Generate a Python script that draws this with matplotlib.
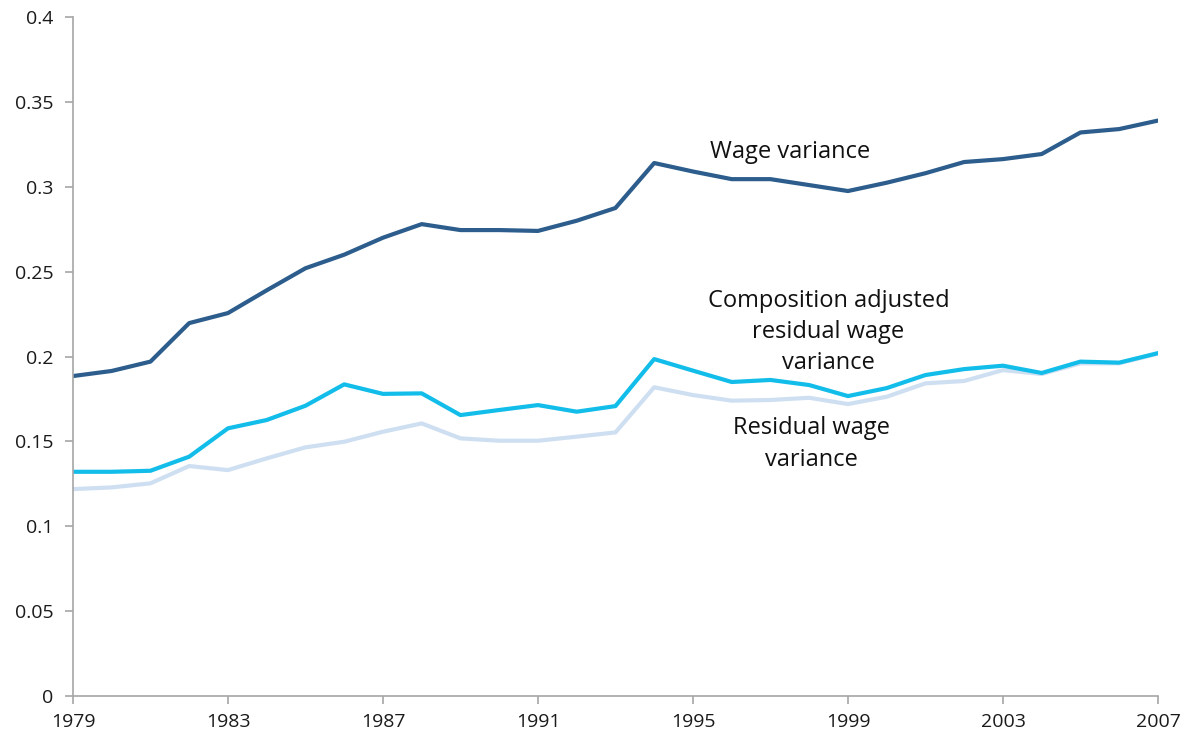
import matplotlib
matplotlib.use('Agg')
import matplotlib.pyplot as plt

plt.rcParams['font.family'] = ['Open Sans', 'DejaVu Sans']

# data
years = list(range(1979, 2008))
wage_var = [0.1885, 0.1915, 0.197, 0.2197, 0.2256, 0.239, 0.252, 0.260, 0.270, 0.278,
            0.2745, 0.2745, 0.274, 0.280, 0.2875, 0.314, 0.309, 0.3045, 0.3045, 0.301,
            0.2975, 0.3024, 0.308, 0.3146, 0.3163, 0.3193, 0.332, 0.334, 0.339]
comp_adj_var = [0.1321, 0.1321, 0.1327, 0.141, 0.1577, 0.1626, 0.171, 0.1836, 0.178, 0.1783,
                0.1655, 0.1685, 0.1714, 0.1675, 0.1708, 0.1985, 0.1917, 0.185, 0.1862, 0.1832,
                0.1767, 0.1814, 0.1891, 0.1926, 0.1946, 0.1903, 0.197, 0.1964, 0.202]
resid_var = [0.1219, 0.1229, 0.1253, 0.1355, 0.1331, 0.140, 0.1465, 0.1498, 0.1557, 0.1606,
             0.1518, 0.1504, 0.1504, 0.1528, 0.1553, 0.1819, 0.1773, 0.174, 0.1744, 0.1757,
             0.172, 0.1763, 0.1842, 0.1856, 0.192, 0.1897, 0.196, 0.196, 0.2017]
xticks = [1979, 1983, 1987, 1991, 1995, 1999, 2003, 2007]
yticks = [0, 0.05, 0.1, 0.15, 0.2, 0.25, 0.3, 0.35, 0.4]
ytick_labels = ['0', '0.05', '0.1', '0.15', '0.2', '0.25', '0.3', '0.35', '0.4']

fig = plt.figure(figsize=(11.88, 7.41), dpi=100)
ax = fig.add_axes([0.0614, 0.0607, 0.9133, 0.9163])

ax.plot(years, resid_var, color='#cfdff2', lw=3, solid_joinstyle='round')
ax.plot(years, comp_adj_var, color='#12bdea', lw=3, solid_joinstyle='round')
ax.plot(years, wage_var, color='#2c5d8c', lw=3, solid_joinstyle='round')

ax.set_xlim(1979, 2007)
ax.set_ylim(0, 0.4)
ax.set_xticks(xticks)
ax.set_xticklabels([str(y) for y in xticks])
ax.set_yticks(yticks)
ax.set_yticklabels(ytick_labels)

for s in ['top', 'right']:
    ax.spines[s].set_visible(False)
for s in ['left', 'bottom']:
    ax.spines[s].set_color('#a6a6a6')
    ax.spines[s].set_linewidth(1.2)
ax.tick_params(axis='both', colors='#a6a6a6', length=6, width=1.2, labelcolor='#1a1a1a',
               labelsize=14)
ax.tick_params(axis='x', pad=6)
ax.tick_params(axis='y', pad=8)

ax.text(1997.5, 0.3205, 'Wage variance', ha='center', va='center', fontsize=17, color='#111111')
ax.text(1998.5, 0.2145, 'Composition adjusted\nresidual wage\nvariance', ha='center', va='center',
        fontsize=17, color='#111111', linespacing=1.4)
ax.text(1998.07, 0.1485, 'Residual wage\nvariance', ha='center', va='center',
        fontsize=17, color='#111111', linespacing=1.4)

fig.savefig('out.png', dpi=100)
